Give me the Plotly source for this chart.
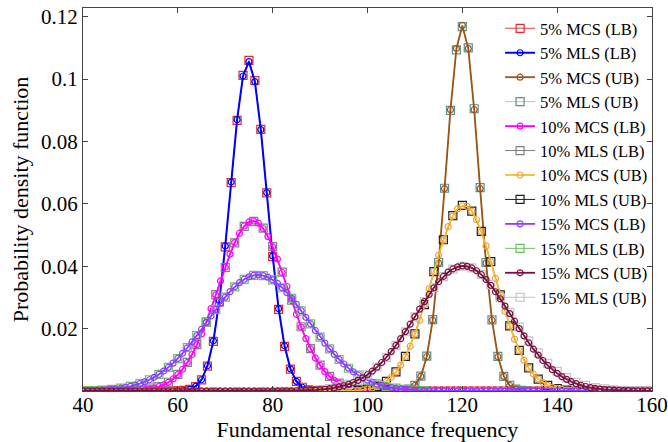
import numpy as np
import plotly.graph_objects as go

# ---------------- data ----------------
x_ticks = [40, 60, 80, 100, 120, 140, 160]
y_ticks = [0.02, 0.04, 0.06, 0.08, 0.1, 0.12]
y_tick_labels = ["0.02", "0.04", "0.06", "0.08", "0.1", "0.12"]

# evaluation grids (frequency axis)
x_grid_5 = np.linspace(40, 160, 97).tolist()      # 5 % MCS curves
x_grid_fine = list(range(40, 161))                # 10 % / 15 % MCS curves

# ---- 5 % ----
pdf_mcs_5_lb = [0.0] * 16 + [
    0.00005, 0.00017, 0.00052, 0.00143, 0.00356, 0.00795, 0.0159, 0.0286, 0.0462, 0.0668,
    0.0868, 0.1012, 0.1060, 0.0995, 0.0839, 0.0635, 0.0431, 0.0262, 0.0143, 0.0070,
    0.0031, 0.0012, 0.0004, 0.0001] + [0.0] * 57
x_mls_5_lb = [60, 61.25, 62.5, 63.75, 65, 66.25, 67.5, 68.75, 70, 71.25, 72.5, 73.75,
              75, 76.25, 77.5, 78.75, 80, 81.25, 82.5, 83.75, 85, 86.25, 87.5, 88.75]
pdf_mls_5_lb = [0.00005, 0.00018, 0.00055, 0.00148, 0.0036, 0.0081, 0.0161, 0.0289, 0.0465, 0.0670,
                0.0870, 0.1010, 0.1056, 0.0992, 0.0838, 0.0636, 0.0433, 0.0264, 0.0145, 0.0071,
                0.0031, 0.0012, 0.0004, 0.0001]

pdf_mcs_5_ub = [0.0] * 53 + [
    0.00004, 0.00016, 0.00057, 0.00176, 0.0047, 0.0110, 0.0227, 0.0410, 0.0649, 0.0902,
    0.1098, 0.1172, 0.1098, 0.0902, 0.0649, 0.0410, 0.0227, 0.0110, 0.0047, 0.00176,
    0.00057, 0.00016, 0.00004] + [0.0] * 21
x_mls_5_ub = [106.25, 107.5, 108.75, 110, 111.25, 112.5, 113.75, 115, 116.25, 117.5, 118.75, 120,
              121.25, 122.5, 123.75, 125, 126.25, 127.5, 128.75, 130, 131.25, 132.5, 133.75]
pdf_mls_5_ub = [0.00004, 0.00017, 0.0006, 0.0018, 0.0048, 0.0112, 0.0229, 0.0412, 0.0650, 0.0900,
                0.1094, 0.1168, 0.1100, 0.0905, 0.0652, 0.0412, 0.0228, 0.0111, 0.0047, 0.0018,
                0.0006, 0.00017, 0.00004]

# ---- 10 % ----
pdf_mcs_10_lb = [0.0] * 7 + [
    0.00002, 0.00004, 0.00006, 0.00011, 0.00017, 0.00027, 0.00041, 0.00063, 0.00094, 0.00138,
    0.00198, 0.00279, 0.00386, 0.00524, 0.00698, 0.00913, 0.0117, 0.0148, 0.0183, 0.0221,
    0.0264, 0.0308, 0.0353, 0.0397, 0.0439, 0.0476, 0.0506, 0.0529, 0.0542, 0.0545,
    0.0538, 0.0521, 0.0495, 0.0462, 0.0423, 0.0380, 0.0335, 0.0290, 0.0246, 0.0205,
    0.0168, 0.0135, 0.0106, 0.0082, 0.0062, 0.00464, 0.0034, 0.00244, 0.00172, 0.00118,
    0.0008, 0.00053, 0.00035, 0.00022, 0.00014, 0.00009, 0.00005, 0.00003] + [0.0] * 56
x_mls_10_lb = list(range(48, 105, 2))
pdf_mls_10_lb = [0.00004, 0.00011, 0.00027, 0.00063, 0.0014, 0.0028, 0.0053, 0.0092, 0.0149, 0.0222,
                 0.0309, 0.0396, 0.0475, 0.0528, 0.0544, 0.0522, 0.0463, 0.0381, 0.0291, 0.0206,
                 0.0136, 0.0083, 0.0047, 0.0025, 0.0012, 0.00054, 0.00023, 0.00009, 0.00003]

pdf_mcs_10_ub = [0.0] * 54 + [
    0.00003, 0.00005, 0.00008, 0.00014, 0.00023, 0.00038, 0.0006, 0.00094, 0.00143, 0.00212,
    0.00309, 0.00439, 0.0061, 0.0083, 0.01103, 0.01435, 0.01825, 0.0227, 0.02763, 0.03287,
    0.03824, 0.04351, 0.04843, 0.0527, 0.0561, 0.0584, 0.0594, 0.0592, 0.0576, 0.0549,
    0.0511, 0.04652, 0.04144, 0.03609, 0.03074, 0.02561, 0.02087, 0.01663, 0.01295, 0.00987,
    0.00735, 0.00536, 0.00382, 0.00267, 0.00182, 0.00121, 0.00079, 0.0005, 0.00031, 0.00019,
    0.00011, 0.00007, 0.00004, 0.00002] + [0.0] * 13
x_mls_10_ub = list(range(94, 147, 2))
pdf_mls_10_ub = [0.00003, 0.00008, 0.00023, 0.0006, 0.00145, 0.0031, 0.0061, 0.0111, 0.0183, 0.0277,
                 0.0383, 0.0485, 0.0562, 0.0595, 0.0577, 0.0512, 0.0415, 0.0308, 0.0209, 0.0130,
                 0.0074, 0.0038, 0.0018, 0.0008, 0.0003, 0.00011, 0.00004]

# ---- 15 % ----
pdf_mcs_15_lb = [
    0.00009, 0.00012, 0.00016, 0.00022, 0.0003, 0.0004, 0.00053, 0.0007, 0.0009, 0.00116,
    0.00149, 0.00188, 0.00236, 0.00293, 0.0036, 0.0044, 0.00533, 0.00639, 0.00759, 0.00894,
    0.01044, 0.01208, 0.01385, 0.01574, 0.01774, 0.01981, 0.02193, 0.02405, 0.02615, 0.02818,
    0.0301, 0.03186, 0.03343, 0.03476, 0.03583, 0.03661, 0.03707, 0.0372, 0.0370, 0.03648,
    0.03564, 0.03452, 0.03313, 0.03152, 0.02973, 0.02778, 0.02573, 0.02363, 0.0215, 0.01939,
    0.01733, 0.01536, 0.01349, 0.01174, 0.01013, 0.00866, 0.00734, 0.00616, 0.00513, 0.00423,
    0.00346, 0.00281, 0.00225, 0.00179, 0.00142, 0.00111, 0.00086, 0.00066, 0.0005, 0.00038,
    0.00028, 0.00021, 0.00015, 0.00011, 0.00008, 0.00006, 0.00004, 0.00003, 0.00002] + [0.0] * 42
x_mls_15_lb = list(range(40, 113, 2))
pdf_mls_15_lb = [0.00009, 0.00016, 0.0003, 0.00053, 0.0009, 0.0015, 0.0024, 0.0036, 0.0053, 0.0076,
                 0.0104, 0.0139, 0.0178, 0.0220, 0.0262, 0.0301, 0.0334, 0.0358, 0.0371, 0.0370,
                 0.0356, 0.0331, 0.0297, 0.0257, 0.0215, 0.0173, 0.0135, 0.0101, 0.0073, 0.0051,
                 0.0035, 0.0023, 0.0014, 0.0009, 0.0005, 0.0003, 0.00015]

pdf_mcs_15_ub = [0.0] * 40 + [
    0.00001, 0.00002, 0.00003, 0.00004, 0.00006, 0.00008, 0.00012, 0.00016, 0.00022, 0.00031,
    0.00042, 0.00056, 0.00075, 0.00099, 0.0013, 0.00168, 0.00215, 0.00272, 0.00341, 0.00424,
    0.00521, 0.00635, 0.00766, 0.00914, 0.0108, 0.01263, 0.01463, 0.01678, 0.01905, 0.02142,
    0.02384, 0.02626, 0.02865, 0.03095, 0.03309, 0.03503, 0.03672, 0.0381, 0.03914, 0.03981,
    0.0401, 0.03997, 0.03946, 0.03856, 0.0373, 0.03574, 0.03389, 0.03182, 0.02958, 0.02723,
    0.02481, 0.02238, 0.01999, 0.01768, 0.01547, 0.01341, 0.01151, 0.00978, 0.00822, 0.00685,
    0.00565, 0.00461, 0.00373, 0.00298, 0.00236, 0.00185, 0.00144, 0.00111, 0.00084, 0.00063,
    0.00047, 0.00035, 0.00026, 0.00018, 0.00013, 0.00009, 0.00007, 0.00005, 0.00003, 0.00002,
    0.00001]
x_mls_15_ub = list(range(90, 161, 2))
pdf_mls_15_ub = [0.00042, 0.00075, 0.0013, 0.00215, 0.0034, 0.0052, 0.0077, 0.0108, 0.0146, 0.0190,
                 0.0238, 0.0286, 0.0331, 0.0367, 0.0391, 0.0400, 0.0395, 0.0374, 0.0341, 0.0299,
                 0.0252, 0.0205, 0.0161, 0.0122, 0.0089, 0.0063, 0.0043, 0.0028, 0.0018, 0.0011,
                 0.00065, 0.00037, 0.0002, 0.0001, 0.00005, 0.00002]

# ---------------- styles ----------------
# (legend name, x, y, line colour, marker colour, symbol, marker size, line width, legend rank)
series = [
    ("5% MCS (LB)", x_grid_5, pdf_mcs_5_lb, "#E06060", "#D83030", "square-open", 8, 1.2, 1),
    ("5% MLS (LB)", x_mls_5_lb, pdf_mls_5_lb, "#0000FF", "#0000FF", "circle-open", 6, 2.0, 2),
    ("5% MLS (UB)", x_mls_5_ub, pdf_mls_5_ub, "#C8D060", "#5F9090", "square-open", 8, 1.0, 4),
    ("5% MCS (UB)", x_grid_5, pdf_mcs_5_ub, "#9A5418", "#9A5418", "circle-open", 6, 1.8, 3),
    ("10% MLS (LB)", x_mls_10_lb, pdf_mls_10_lb, "#808080", "#808080", "square-open", 8, 1.0, 6),
    ("10% MCS (LB)", x_grid_fine, pdf_mcs_10_lb, "#FF00FF", "#FF00FF", "circle-open", 6, 1.8, 5),
    ("10% MLS (UB)", x_mls_10_ub, pdf_mls_10_ub, "#202020", "#202020", "square-open", 8, 1.0, 8),
    ("10% MCS (UB)", x_grid_fine, pdf_mcs_10_ub, "#F5BE2A", "#F0A040", "circle-open", 6, 1.8, 7),
    ("15% MLS (LB)", x_mls_15_lb, pdf_mls_15_lb, "#6CC060", "#6CC060", "square-open", 8, 1.0, 10),
    ("15% MCS (LB)", x_grid_fine, pdf_mcs_15_lb, "#8A40FF", "#8A40FF", "circle-open", 6, 1.8, 9),
    ("15% MLS (UB)", x_mls_15_ub, pdf_mls_15_ub, "#C4C4C4", "#C4C4C4", "square-open", 8, 1.0, 12),
    ("15% MCS (UB)", x_grid_fine, pdf_mcs_15_ub, "#7A1042", "#7A1042", "circle-open", 6, 1.8, 11),
]

fig = go.Figure()
for name, xs, ys, lc, mc, sym, ms, lw, rank in series:
    if len(xs) != len(ys):
        raise ValueError(f"{name}: {len(xs)} x vs {len(ys)} y")
    fig.add_trace(go.Scatter(
        x=xs, y=ys, name=name, mode="lines+markers", legendrank=rank,
        line=dict(color=lc, width=lw),
        marker=dict(symbol=sym, size=ms, color=mc, line=dict(color=mc, width=1.2)),
    ))

serif = "Liberation Serif, Times New Roman, serif"
fig.update_layout(
    width=668, height=442,
    margin=dict(l=83, r=16, t=8, b=51, autoexpand=False),
    paper_bgcolor="white", plot_bgcolor="white",
    font=dict(family=serif, size=21, color="black"),
    showlegend=True,
    legend=dict(x=0.733, y=0.992, xanchor="left", yanchor="top",
                bgcolor="rgba(0,0,0,0)", borderwidth=0,
                font=dict(family=serif, size=16.5, color="black"),
                itemwidth=30, tracegroupgap=0),
)
fig.update_xaxes(
    range=[40, 160], tickvals=x_ticks, ticks="inside", ticklen=5, tickcolor="#444",
    showline=True, linecolor="#444", linewidth=1, mirror="allticks",
    showgrid=False, zeroline=False, automargin=False, ticklabelstandoff=-5,
    tickfont=dict(family=serif, size=21, color="black"),
    title=dict(text="Fundamental resonance frequency", font=dict(family=serif, size=22, color="black"), standoff=4),
)
fig.update_yaxes(
    range=[0, 0.1228], tickvals=y_ticks, ticktext=y_tick_labels,
    ticks="inside", ticklen=5, tickcolor="#444",
    showline=True, linecolor="#444", linewidth=1, mirror="allticks",
    showgrid=False, zeroline=False, automargin=False,
    tickfont=dict(family=serif, size=21, color="black"),
    title=dict(text="Probability density function", font=dict(family=serif, size=22, color="black"), standoff=6),
)

fig.write_html("out.html")
